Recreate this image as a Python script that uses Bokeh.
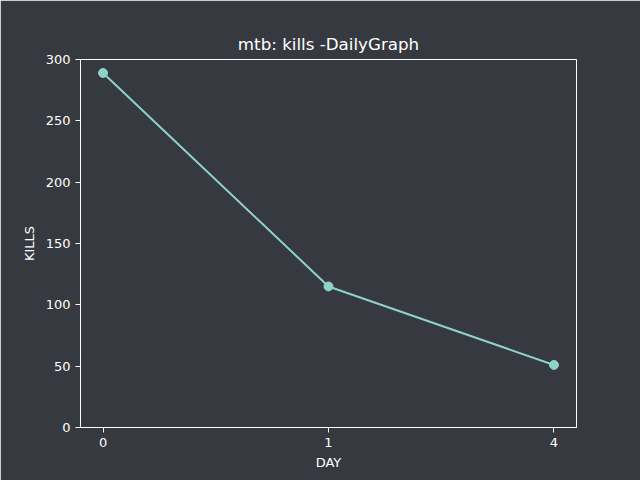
from bokeh.plotting import figure
from bokeh.models import Range1d, FixedTicker, ColumnDataSource
from bokeh.embed import file_html
from bokeh.resources import INLINE

days = ["0", "1", "4"]
kills = [289, 115, 51]

BG = "#363940"
FG = "#ffffff"
LINE = "#8dd3c7"

pos = list(range(len(days)))
src = ColumnDataSource(dict(x=pos, y=kills))

p = figure(width=640, height=480, output_backend="svg", toolbar_location=None,
           x_range=Range1d(-0.1, len(days) - 0.9), y_range=Range1d(0, 300),
           title="mtb: kills -DailyGraph")
p.min_border_left = 80
p.min_border_right = 64
p.min_border_top = 59
p.min_border_bottom = 53
p.background_fill_color = BG
p.border_fill_color = BG
p.outline_line_color = FG
p.outline_line_width = 1
p.grid.visible = False

p.title.align = "center"
p.title.text_color = FG
p.title.text_font = "DejaVu Sans"
p.title.text_font_size = "16.7px"
p.title.text_font_style = "normal"
p.title.standoff = 12

p.line("x", "y", source=src, line_color=LINE, line_width=2)
p.scatter("x", "y", source=src, size=9, fill_color=LINE, line_color=LINE)

p.xaxis.ticker = FixedTicker(ticks=pos)
p.xaxis.major_label_overrides = {i: d for i, d in enumerate(days)}
p.yaxis.ticker = FixedTicker(ticks=[0, 50, 100, 150, 200, 250, 300])
p.xaxis.axis_label = "DAY"
p.yaxis.axis_label = "KILLS"
for ax in (p.xaxis, p.yaxis):
    ax.axis_line_color = FG
    ax.major_tick_line_color = FG
    ax.minor_tick_line_color = None
    ax.major_tick_out = 5
    ax.major_tick_in = 0
    ax.major_label_text_color = FG
    ax.major_label_text_font = "DejaVu Sans"
    ax.major_label_text_font_size = "13px"
    ax.axis_label_text_color = FG
    ax.axis_label_text_font = "DejaVu Sans"
    ax.axis_label_text_font_size = "13px"
    ax.axis_label_text_font_style = "normal"
p.xaxis.axis_label_standoff = 5
p.yaxis.axis_label_standoff = 6
p.yaxis.major_label_orientation = "horizontal"

html = file_html(p, INLINE)
html = html.replace("<body>", '<body style="background:%s">' % BG, 1)
open("out.html", "w").write(html)
